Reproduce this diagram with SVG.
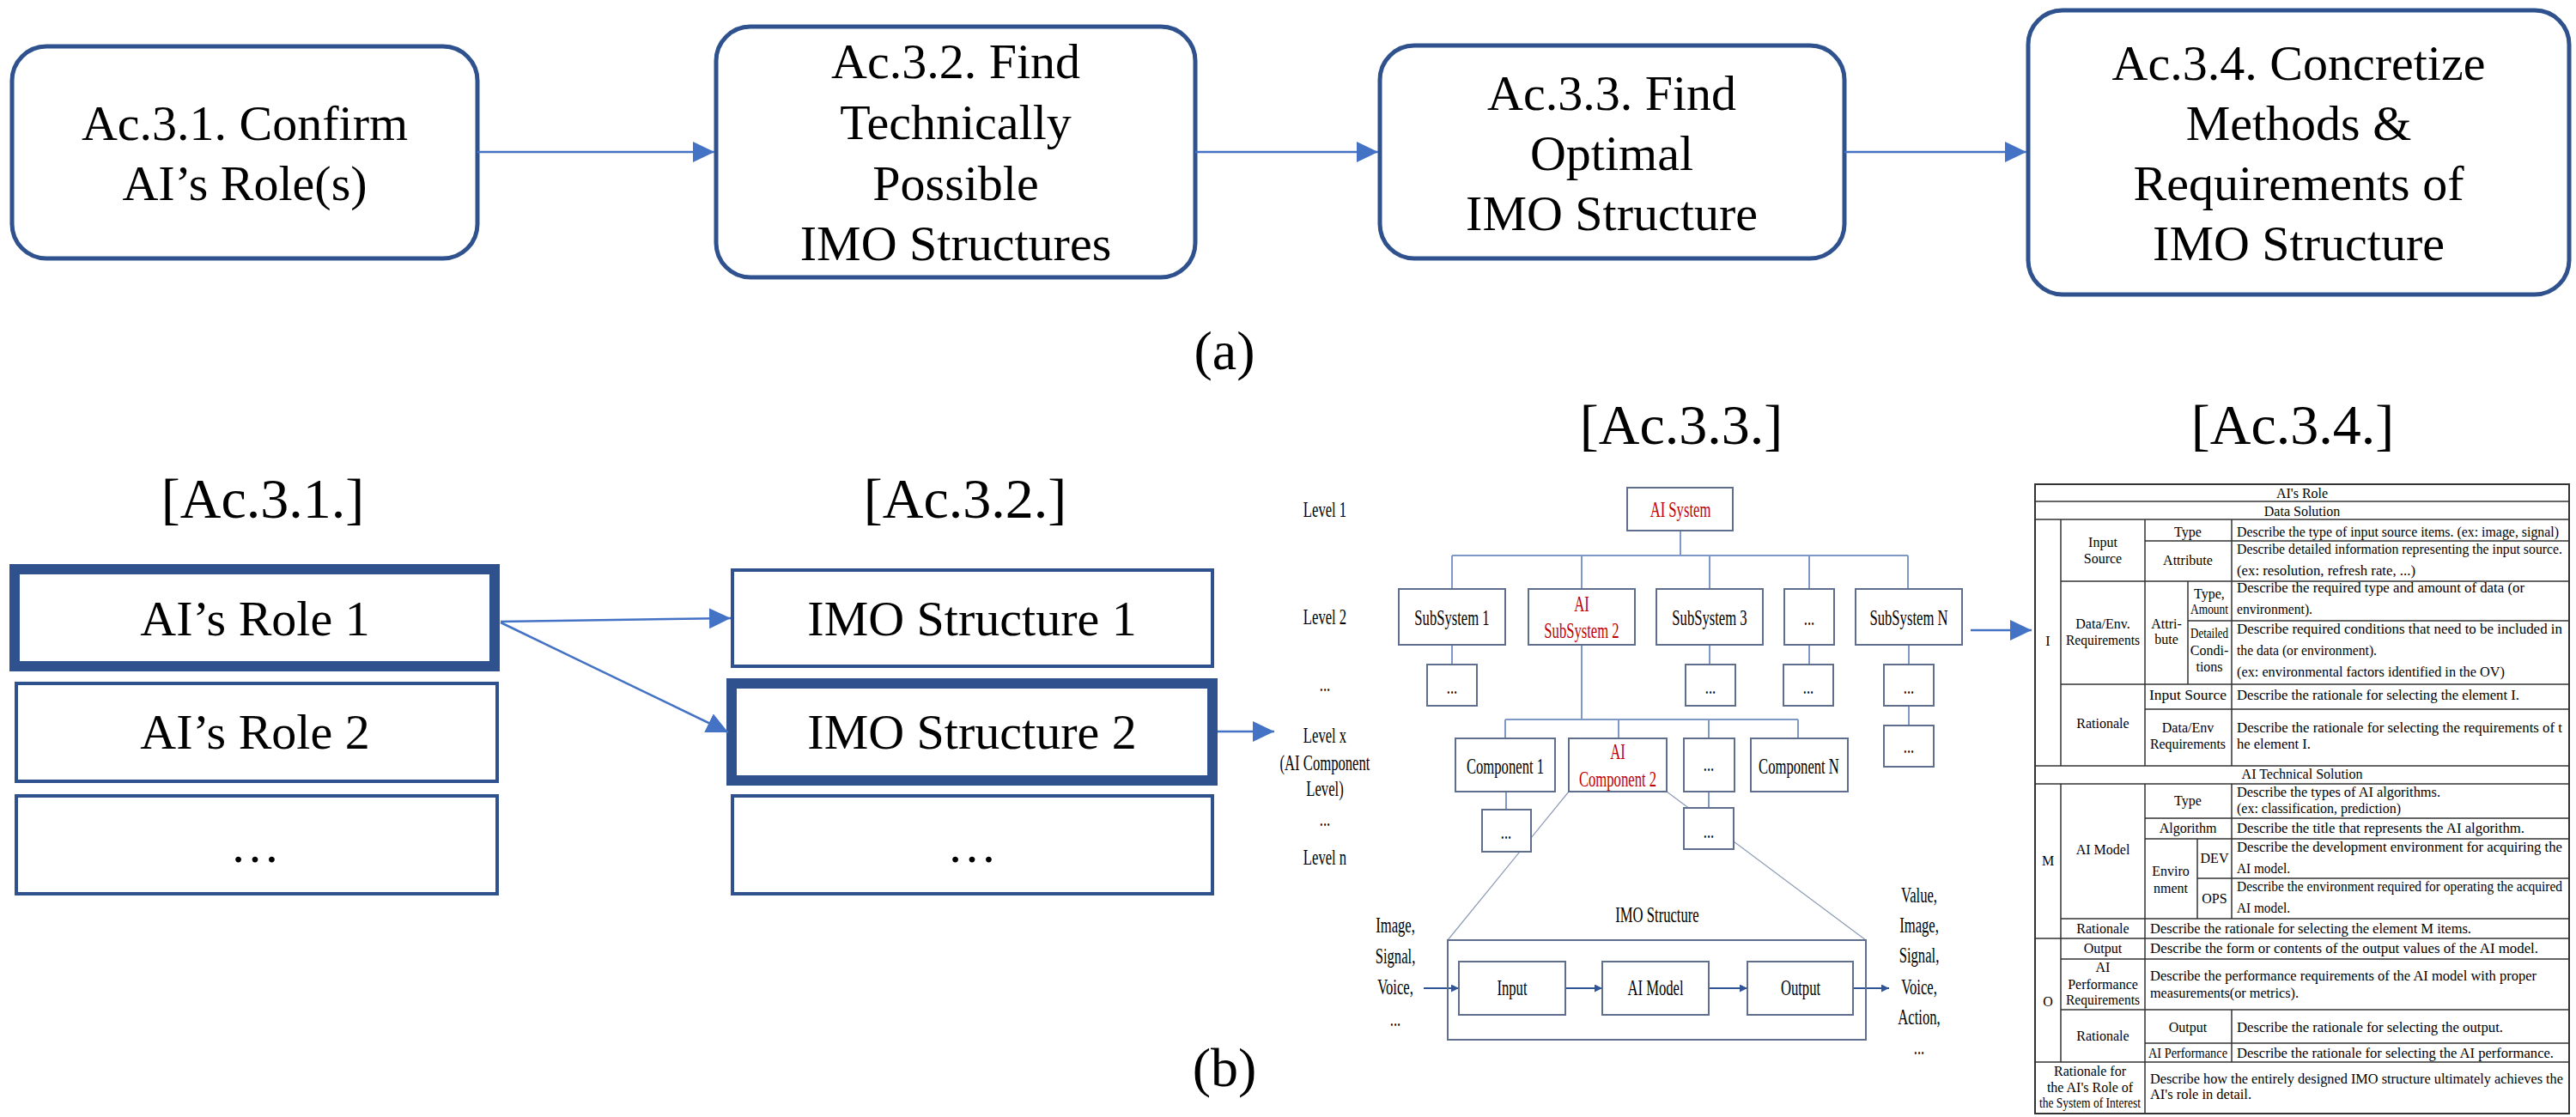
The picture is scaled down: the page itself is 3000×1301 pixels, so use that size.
<svg xmlns="http://www.w3.org/2000/svg" width="3000" height="1301" viewBox="0 0 3000 1301">
<style>
text{font-family:"Liberation Serif","Times New Roman",serif;fill:#000}
.big{font-size:58px;text-anchor:middle}
.hd{font-size:66px;text-anchor:middle}
.lab{font-size:64px;text-anchor:middle}
.rb{fill:#fff;stroke:#2F528F;stroke-width:5}
.sq{fill:#fff;stroke:#2F528F;stroke-width:4}
.sqb{fill:#fff;stroke:#2F528F;stroke-width:12}
.ar{stroke:#4472C4;stroke-width:2.5;fill:none;marker-end:url(#ah)}
.d{font-size:26px;text-anchor:middle}
.red{fill:#C00000}
.db{fill:#fff;stroke:#5E6E8C;stroke-width:2}
.dl{stroke:#7F99C6;stroke-width:2;fill:none}
.gl{stroke:#8C9BB5;stroke-width:1.2;fill:none}
.sa{stroke:#2F5597;stroke-width:2;fill:none;marker-end:url(#sh)}
.t{font-size:16px}
.tc{font-size:16px;text-anchor:middle}
.tl{stroke:#333;stroke-width:1.5;fill:none}
</style>
<defs>
<marker id="ah" markerUnits="userSpaceOnUse" markerWidth="26" markerHeight="26" refX="25" refY="12" orient="auto"><path d="M0,0 L25,12 L0,24 Z" fill="#4472C4"/></marker>
<marker id="sh" markerUnits="userSpaceOnUse" markerWidth="10" markerHeight="10" refX="9" refY="4.5" orient="auto"><path d="M0,0 L9,4.5 L0,9 Z" fill="#2F5597"/></marker>
</defs>
<rect width="3000" height="1301" fill="#fff"/>

<!-- (a) top row -->
<g id="n_ac31"><rect class="rb" x="14" y="54" width="542" height="247" rx="40"/>
<text class="big" x="285" y="163">Ac.3.1. Confirm</text><text class="big" x="285" y="233">AI’s Role(s)</text></g>
<g id="n_ac32"><rect class="rb" x="834" y="31" width="558" height="292" rx="40"/>
<text class="big" x="1113" y="91">Ac.3.2. Find</text><text class="big" x="1113" y="162">Technically</text><text class="big" x="1113" y="233">Possible</text><text class="big" x="1113" y="303">IMO Structures</text></g>
<g id="n_ac33"><rect class="rb" x="1607" y="53" width="541" height="248" rx="40"/>
<text class="big" x="1877" y="128">Ac.3.3. Find</text><text class="big" x="1877" y="198">Optimal</text><text class="big" x="1877" y="268">IMO Structure</text></g>
<g id="n_ac34"><rect class="rb" x="2362" y="12" width="630" height="331" rx="40"/>
<text class="big" x="2677" y="93">Ac.3.4. Concretize</text><text class="big" x="2677" y="163">Methods &amp;</text><text class="big" x="2677" y="233">Requirements of</text><text class="big" x="2677" y="303">IMO Structure</text></g>
<text class="lab" x="1426" y="430">(a)</text>

<!-- (b) -->
<text class="hd" x="306" y="603">[Ac.3.1.]</text>
<text class="hd" x="1124" y="603">[Ac.3.2.]</text>
<text class="hd" x="1958" y="517">[Ac.3.3.]</text>
<text class="hd" x="2670" y="517">[Ac.3.4.]</text>
<text class="lab" x="1426" y="1265">(b)</text>

<g id="n_role1"><rect class="sqb" x="17" y="663" width="559" height="113"/><text class="big" x="297" y="740">AI’s Role 1</text></g>
<g id="n_role2"><rect class="sq" x="19" y="796" width="560" height="114"/><text class="big" x="297" y="872">AI’s Role 2</text></g>
<g id="n_role3"><rect class="sq" x="19" y="927" width="560" height="114"/><text class="big" x="297" y="1004">…</text></g>
<g id="n_imo1"><rect class="sq" x="853" y="664" width="559" height="112"/><text class="big" x="1132" y="740">IMO Structure 1</text></g>
<g id="n_imo2"><rect class="sqb" x="852" y="796" width="560" height="113"/><text class="big" x="1132" y="872">IMO Structure 2</text></g>
<g id="n_imo3"><rect class="sq" x="853" y="927" width="559" height="114"/><text class="big" x="1132" y="1004">…</text></g>

<g id="connectors">
<line class="ar" x1="556" y1="177" x2="832" y2="177"/>
<line class="ar" x1="1392" y1="177" x2="1605" y2="177"/>
<line class="ar" x1="2148" y1="177" x2="2360" y2="177"/>
<line class="ar" x1="583" y1="724" x2="851" y2="720"/>
<line class="ar" x1="583" y1="725" x2="848" y2="853"/>
<line class="ar" x1="1418" y1="852" x2="1484" y2="852"/>
<line class="ar" x1="2295" y1="734" x2="2366" y2="734"/>
<!-- hierarchy lines -->
<path class="dl" d="M1957,618 V647 M1691,647 H2222 M1691,647 V686 M1842,647 V686 M1991,647 V686 M2107,647 V686 M2222,647 V686"/>
<path class="dl" d="M1691,751 V774 M1991,751 V774 M2107,751 V774 M2223,751 V774 M2223,822 V845"/>
<path class="dl" d="M1842,751 V838 M1753,838 H2094 M1753,838 V860 M1885,838 V860 M1990,838 V860 M2094,838 V860"/>
<path class="dl" d="M1754,922 V943 M1990,922 V941"/>
<path class="gl" d="M1827,922 L1686,1095 M1941,922 L2173,1095"/>
<line class="sa" x1="1658" y1="1151" x2="1699" y2="1151"/>
<line class="sa" x1="1823" y1="1151" x2="1866" y2="1151"/>
<line class="sa" x1="1990" y1="1151" x2="2035" y2="1151"/>
<line class="sa" x1="2158" y1="1151" x2="2200" y2="1151"/>
</g>

<!-- Ac.3.3 hierarchy -->
<g id="levels">
<text class="d" transform="translate(1543 602) scale(.64 1)">Level 1</text>
<text class="d" transform="translate(1543 727) scale(.64 1)">Level 2</text>
<text class="d" transform="translate(1543 805) scale(.64 1)">...</text>
<text class="d" transform="translate(1543 865) scale(.64 1)">Level x</text>
<text class="d" transform="translate(1543 897) scale(.64 1)">(AI Component</text>
<text class="d" transform="translate(1543 927) scale(.64 1)">Level)</text>
<text class="d" transform="translate(1543 962) scale(.64 1)">...</text>
<text class="d" transform="translate(1543 1007) scale(.64 1)">Level n</text>
</g>
<g id="n_aisys"><rect class="db" x="1895" y="568" width="123" height="50"/><text class="d red" transform="translate(1957 602) scale(.64 1)">AI System</text></g>
<g id="n_ss1"><rect class="db" x="1629" y="686" width="124" height="65"/><text class="d" transform="translate(1691 728) scale(.64 1)">SubSystem 1</text></g>
<g id="n_ss2"><rect class="db" x="1780" y="686" width="124" height="65"/><text class="d red" transform="translate(1842 712) scale(.64 1)">AI</text><text class="d red" transform="translate(1842 743) scale(.64 1)">SubSystem 2</text></g>
<g id="n_ss3"><rect class="db" x="1929" y="686" width="124" height="65"/><text class="d" transform="translate(1991 728) scale(.64 1)">SubSystem 3</text></g>
<g id="n_ssd"><rect class="db" x="2078" y="686" width="58" height="65"/><text class="d" transform="translate(2107 728) scale(.64 1)">...</text></g>
<g id="n_ssn"><rect class="db" x="2161" y="686" width="124" height="65"/><text class="d" transform="translate(2223 728) scale(.64 1)">SubSystem N</text></g>
<g id="n_l3a"><rect class="db" x="1662" y="774" width="58" height="48"/><text class="d" transform="translate(1691 808) scale(.64 1)">...</text></g>
<g id="n_l3b"><rect class="db" x="1963" y="774" width="58" height="48"/><text class="d" transform="translate(1992 808) scale(.64 1)">...</text></g>
<g id="n_l3c"><rect class="db" x="2077" y="774" width="58" height="48"/><text class="d" transform="translate(2106 808) scale(.64 1)">...</text></g>
<g id="n_l3d"><rect class="db" x="2194" y="774" width="58" height="48"/><text class="d" transform="translate(2223 808) scale(.64 1)">...</text></g>
<g id="n_l3e"><rect class="db" x="2194" y="845" width="58" height="48"/><text class="d" transform="translate(2223 877) scale(.64 1)">...</text></g>
<g id="n_c1"><rect class="db" x="1695" y="860" width="116" height="62"/><text class="d" transform="translate(1753 901) scale(.64 1)">Component 1</text></g>
<g id="n_c2"><rect class="db" x="1827" y="860" width="114" height="62"/><text class="d red" transform="translate(1884 884) scale(.64 1)">AI</text><text class="d red" transform="translate(1884 916) scale(.64 1)">Component 2</text></g>
<g id="n_cd"><rect class="db" x="1961" y="860" width="59" height="62"/><text class="d" transform="translate(1990 898) scale(.64 1)">...</text></g>
<g id="n_cn"><rect class="db" x="2039" y="860" width="113" height="62"/><text class="d" transform="translate(2095 901) scale(.64 1)">Component N</text></g>
<g id="n_c1d"><rect class="db" x="1726" y="943" width="57" height="49"/><text class="d" transform="translate(1754 977) scale(.64 1)">...</text></g>
<g id="n_cdd"><rect class="db" x="1961" y="941" width="58" height="48"/><text class="d" transform="translate(1990 976) scale(.64 1)">...</text></g>

<g id="n_imo"><text class="d" transform="translate(1930 1074) scale(.64 1)">IMO Structure</text>
<rect x="1686" y="1095" width="487" height="116" fill="none" stroke="#5E6E8C" stroke-width="2"/></g>
<g id="n_in"><rect class="db" x="1699" y="1120" width="124" height="62"/><text class="d" transform="translate(1761 1159) scale(.64 1)">Input</text></g>
<g id="n_model"><rect class="db" x="1866" y="1120" width="124" height="62"/><text class="d" transform="translate(1928 1159) scale(.64 1)">AI Model</text></g>
<g id="n_out"><rect class="db" x="2035" y="1120" width="123" height="62"/><text class="d" transform="translate(2097 1159) scale(.64 1)">Output</text></g>
<g id="inputs">
<text class="d" transform="translate(1625 1086) scale(.64 1)">Image,</text>
<text class="d" transform="translate(1625 1122) scale(.64 1)">Signal,</text>
<text class="d" transform="translate(1625 1158) scale(.64 1)">Voice,</text>
<text class="d" transform="translate(1625 1195) scale(.64 1)">...</text>
</g>
<g id="outputs">
<text class="d" transform="translate(2235 1051) scale(.64 1)">Value,</text>
<text class="d" transform="translate(2235 1086) scale(.64 1)">Image,</text>
<text class="d" transform="translate(2235 1121) scale(.64 1)">Signal,</text>
<text class="d" transform="translate(2235 1158) scale(.64 1)">Voice,</text>
<text class="d" transform="translate(2235 1193) scale(.64 1)">Action,</text>
<text class="d" transform="translate(2235 1228) scale(.64 1)">...</text>
</g>

<!-- Ac.3.4 table -->
<g id="table">
<rect x="2370" y="564" width="622" height="733" fill="#fff" stroke="#333" stroke-width="2"/>
<path class="tl" d="M2370,584 H2992 M2370,605 H2992 M2498,630 H2992 M2400,677 H2992 M2548,723 H2992 M2400,797 H2992 M2498,826 H2992 M2370,892 H2992 M2370,913 H2992 M2498,953 H2992 M2498,977 H2992 M2559,1023 H2992 M2400,1070 H2992 M2370,1093 H2992 M2400,1117 H2992 M2400,1176 H2992 M2498,1215 H2992 M2370,1237 H2992"/>
<path class="tl" d="M2400,605 V892 M2400,913 V1237 M2498,605 V892 M2498,913 V1297 M2599,605 V892 M2599,913 V1070 M2599,1176 V1237 M2548,677 V797 M2559,977 V1070"/>
<text class="tc" x="2681" y="580">AI's Role</text>
<text class="tc" x="2681" y="601">Data Solution</text>
<text class="tc" x="2385" y="752">I</text>
<text class="tc" x="2449" y="637">Input</text><text class="tc" x="2449" y="656">Source</text>
<text class="tc" x="2548" y="625">Type</text>
<text class="tc" x="2548" y="658">Attribute</text>
<text class="tc" x="2449" y="732">Data/Env.</text><text class="tc" x="2449" y="751" textLength="86" lengthAdjust="spacingAndGlyphs">Requirements</text>
<text class="tc" x="2523" y="732">Attri-</text><text class="tc" x="2523" y="750">bute</text>
<text class="tc" x="2573" y="697">Type,</text><text class="tc" x="2573" y="715" textLength="44" lengthAdjust="spacingAndGlyphs">Amount</text>
<text class="tc" x="2573" y="743" textLength="44" lengthAdjust="spacingAndGlyphs">Detailed</text><text class="tc" x="2573" y="763">Condi-</text><text class="tc" x="2573" y="782">tions</text>
<text class="tc" x="2449" y="848">Rationale</text>
<text class="tc" x="2548" y="815" textLength="90" lengthAdjust="spacingAndGlyphs">Input Source</text>
<text class="tc" x="2548" y="853">Data/Env</text><text class="tc" x="2548" y="872" textLength="88" lengthAdjust="spacingAndGlyphs">Requirements</text>
<text class="t" x="2605" y="625" textLength="375" lengthAdjust="spacingAndGlyphs">Describe the type of input source items. (ex: image, signal)</text>
<text class="t" x="2605" y="645" textLength="379" lengthAdjust="spacingAndGlyphs">Describe detailed information representing the input source.</text>
<text class="t" x="2605" y="670" textLength="208" lengthAdjust="spacingAndGlyphs">(ex: resolution, refresh rate, ...)</text>
<text class="t" x="2605" y="690" textLength="335" lengthAdjust="spacingAndGlyphs">Describe the required type and amount of data (or</text>
<text class="t" x="2605" y="715" textLength="88" lengthAdjust="spacingAndGlyphs">environment).</text>
<text class="t" x="2605" y="738" textLength="379" lengthAdjust="spacingAndGlyphs">Describe required conditions that need to be included in</text>
<text class="t" x="2605" y="763" textLength="163" lengthAdjust="spacingAndGlyphs">the data (or environment).</text>
<text class="t" x="2605" y="788" textLength="312" lengthAdjust="spacingAndGlyphs">(ex: environmental factors identified in the OV)</text>
<text class="t" x="2605" y="815" textLength="329" lengthAdjust="spacingAndGlyphs">Describe the rationale for selecting the element I.</text>
<text class="t" x="2605" y="853" textLength="379" lengthAdjust="spacingAndGlyphs">Describe the rationale for selecting the requirements of t</text>
<text class="t" x="2605" y="872" textLength="86" lengthAdjust="spacingAndGlyphs">he element I.</text>
<text class="tc" x="2681" y="907">AI Technical Solution</text>
<text class="tc" x="2385" y="1008">M</text>
<text class="tc" x="2449" y="995">AI Model</text>
<text class="tc" x="2548" y="938">Type</text>
<text class="tc" x="2548" y="970">Algorithm</text>
<text class="tc" x="2528" y="1020">Enviro</text><text class="tc" x="2528" y="1040">nment</text>
<text class="tc" x="2579" y="1005">DEV</text><text class="tc" x="2579" y="1052">OPS</text>
<text class="t" x="2605" y="928" textLength="237" lengthAdjust="spacingAndGlyphs">Describe the types of AI algorithms.</text>
<text class="t" x="2605" y="947" textLength="191" lengthAdjust="spacingAndGlyphs">(ex: classification, prediction)</text>
<text class="t" x="2605" y="970" textLength="335" lengthAdjust="spacingAndGlyphs">Describe the title that represents the AI algorithm.</text>
<text class="t" x="2605" y="992" textLength="379" lengthAdjust="spacingAndGlyphs">Describe the development environment for acquiring the</text>
<text class="t" x="2605" y="1017" textLength="62" lengthAdjust="spacingAndGlyphs">AI model.</text>
<text class="t" x="2605" y="1038" textLength="379" lengthAdjust="spacingAndGlyphs">Describe the environment required for operating the acquired</text>
<text class="t" x="2605" y="1063" textLength="62" lengthAdjust="spacingAndGlyphs">AI model.</text>
<text class="tc" x="2449" y="1087">Rationale</text>
<text class="t" x="2504" y="1087" textLength="374" lengthAdjust="spacingAndGlyphs">Describe the rationale for selecting the element M items.</text>
<text class="tc" x="2385" y="1172">O</text>
<text class="tc" x="2449" y="1110">Output</text>
<text class="t" x="2504" y="1110" textLength="452" lengthAdjust="spacingAndGlyphs">Describe the form or contents of the output values of the AI model.</text>
<text class="tc" x="2449" y="1132">AI</text><text class="tc" x="2449" y="1152">Performance</text><text class="tc" x="2449" y="1170" textLength="86" lengthAdjust="spacingAndGlyphs">Requirements</text>
<text class="t" x="2504" y="1142" textLength="450" lengthAdjust="spacingAndGlyphs">Describe the performance requirements of the AI model with proper</text>
<text class="t" x="2504" y="1162" textLength="173" lengthAdjust="spacingAndGlyphs">measurements(or metrics).</text>
<text class="tc" x="2449" y="1212">Rationale</text>
<text class="tc" x="2548" y="1202">Output</text>
<text class="tc" x="2548" y="1232" textLength="92" lengthAdjust="spacingAndGlyphs">AI Performance</text>
<text class="t" x="2605" y="1202" textLength="310" lengthAdjust="spacingAndGlyphs">Describe the rationale for selecting the output.</text>
<text class="t" x="2605" y="1232" textLength="369" lengthAdjust="spacingAndGlyphs">Describe the rationale for selecting the AI performance.</text>
<text class="tc" x="2434" y="1253">Rationale for</text>
<text class="tc" x="2434" y="1272">the AI's Role of</text>
<text class="tc" x="2434" y="1290" textLength="118" lengthAdjust="spacingAndGlyphs">the System of Interest</text>
<text class="t" x="2504" y="1262" textLength="481" lengthAdjust="spacingAndGlyphs">Describe how the entirely designed IMO structure ultimately achieves the</text>
<text class="t" x="2504" y="1280" textLength="118" lengthAdjust="spacingAndGlyphs">AI's role in detail.</text>
</g>
</svg>
